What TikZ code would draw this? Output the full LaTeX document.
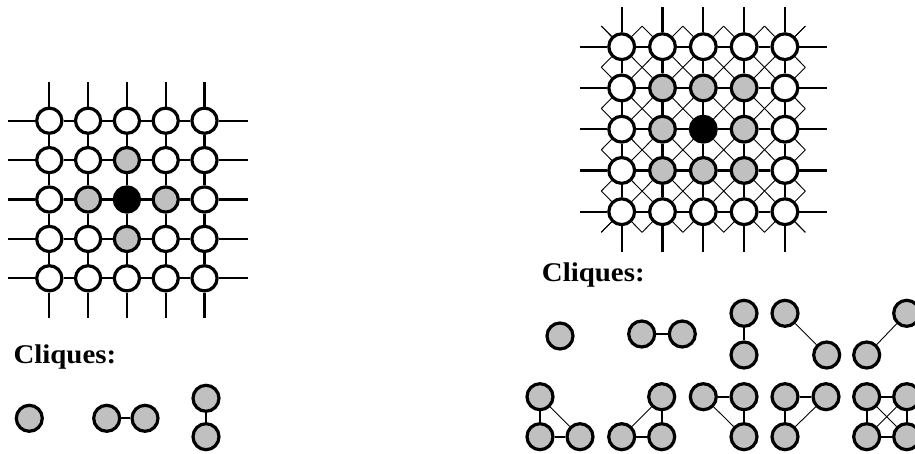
\documentclass[tikz,border=0pt]{standalone}
\usepackage{fontspec}
\setmainfont{Liberation Serif}
\definecolor{cgray}{RGB}{192,192,192}
\begin{document}
\begin{tikzpicture}[x=1pt,y=-1pt,
  vtx/.style={circle,draw=black,line width=3.2pt,minimum size=25.2pt,inner sep=0pt,fill=white},
  cq/.style={vtx,fill=cgray,minimum size=26pt},
  gl/.style={line width=2.1pt},
  dl/.style={line width=0.9pt},
  lbl/.style={font=\bfseries\fontsize{27}{30}\selectfont,inner sep=0pt,anchor=base west}]
\useasboundingbox (0,0) rectangle (915,453);

% ---------- left grid ----------
\foreach \i in {0,...,4}{\foreach \j in {0,...,4}{
  \pgfmathtruncatemacro\dd{abs(\i-2)+abs(\j-2)}
  \ifnum\dd=0 \def\fillc{black}\else\ifnum\dd=1 \def\fillc{cgray}\else\def\fillc{white}\fi\fi
  \node[vtx,fill=\fillc] (L\i\j) at ({49.3+38.8*\i},{120.7+39.4*\j}) {};
}}
\foreach \k in {0,...,4}{
  \coordinate (Lt\k) at ({49.3+38.8*\k},81.5);
  \coordinate (Lb\k) at ({49.3+38.8*\k},318.3);
  \coordinate (Ll\k) at (8.3,{120.7+39.4*\k});
  \coordinate (Lr\k) at (248,{120.7+39.4*\k});
  \draw[gl] (L\k0) -- (Lt\k);
  \draw[gl] (L\k4) -- (Lb\k);
  \draw[gl] (L0\k) -- (Ll\k);
  \draw[gl] (L4\k) -- (Lr\k);
}
\foreach \i [evaluate=\i as \n using int(\i+1)] in {0,...,3}{\foreach \j in {0,...,4}{
  \draw[gl] (L\i\j) -- (L\n\j);
  \draw[gl] (L\j\i) -- (L\j\n);
}}

% ---------- right grid ----------
\foreach \i in {0,...,4}{\foreach \j in {0,...,4}{
  \pgfmathtruncatemacro\dd{max(abs(\i-2),abs(\j-2))}
  \ifnum\dd=0 \def\fillc{black}\else\ifnum\dd=1 \def\fillc{cgray}\else\def\fillc{white}\fi\fi
  \node[vtx,fill=\fillc,minimum size=25.8pt] (R\i\j) at ({621.7+40.8*\i},{46.7+41.25*\j}) {};
}}
\foreach \k in {0,...,4}{
  \coordinate (Rt\k) at ({621.7+40.8*\k},6.7);
  \coordinate (Rb\k) at ({621.7+40.8*\k},251.7);
  \coordinate (Rl\k) at (580,{46.7+41.25*\k});
  \coordinate (Rr\k) at (826.7,{46.7+41.25*\k});
  \draw[gl] (R\k0) -- (Rt\k);
  \draw[gl] (R\k4) -- (Rb\k);
  \draw[gl] (R0\k) -- (Rl\k);
  \draw[gl] (R4\k) -- (Rr\k);
}
\foreach \i [evaluate=\i as \n using int(\i+1)] in {0,...,3}{\foreach \j in {0,...,4}{
  \draw[gl] (R\i\j) -- (R\n\j);
  \draw[gl] (R\j\i) -- (R\j\n);
}}
% diagonals
\foreach \i [evaluate=\i as \n using int(\i+1)] in {0,...,3}{\foreach \j [evaluate=\j as \m using int(\j+1)] in {0,...,3}{
  \draw[dl] (R\i\j) -- (R\n\m);
  \draw[dl] (R\n\j) -- (R\i\m);
}}
\foreach \k in {0,...,5}{
  \coordinate (DT\k) at ({621.7+40.8*(\k-0.5)},26.1);
  \coordinate (DB\k) at ({621.7+40.8*(\k-0.5)},232.3);
  \coordinate (DL\k) at (601.3,{46.7+41.25*(\k-0.5)});
  \coordinate (DR\k) at (805.4,{46.7+41.25*(\k-0.5)});
}
\foreach \k [evaluate=\k as \n using int(\k+1)] in {0,...,4}{
  \draw[dl] (R\k0) -- (DT\k);
  \draw[dl] (R\k0) -- (DT\n);
  \draw[dl] (R\k4) -- (DB\k);
  \draw[dl] (R\k4) -- (DB\n);
  \draw[dl] (R0\k) -- (DL\k);
  \draw[dl] (R0\k) -- (DL\n);
  \draw[dl] (R4\k) -- (DR\k);
  \draw[dl] (R4\k) -- (DR\n);
}

% ---------- labels ----------
\node[lbl] (t1) at (13.3,363.3) {\scalebox{1.07}[1]{Cliques:}};
\node[lbl] (t2) at (541.7,281.7) {\scalebox{1.07}[1]{Cliques:}};

% ---------- left cliques ----------
\node[cq] (a1) at (29.3,418.3) {};
\node[cq] (a2) at (106.7,418.3) {};
\node[cq] (a3) at (145,418.3) {};
\node[cq] (a4) at (206,398.3) {};
\node[cq] (a5) at (206,436.7) {};
\draw[gl] (a2) -- (a3);
\draw[gl] (a4) -- (a5);

% ---------- right cliques, row 1 ----------
\node[cq] (b1) at (560,336) {};
\node[cq] (b2) at (641.7,334) {};
\node[cq] (b3) at (682.3,334) {};
\node[cq] (b4) at (744,313.3) {};
\node[cq] (b5) at (744,355) {};
\node[cq] (b6) at (785,313.3) {};
\node[cq] (b7) at (826.7,355) {};
\node[cq] (b8) at (906.7,313.3) {};
\node[cq] (b9) at (866.7,355) {};
\draw[gl] (b2) -- (b3);
\draw[gl] (b4) -- (b5);
\draw[dl] (b6) -- (b7);
\draw[dl] (b8) -- (b9);

% ---------- right cliques, row 2 ----------
\node[cq] (c1) at (540,396.7) {};
\node[cq] (c2) at (540,436.7) {};
\node[cq] (c3) at (580,436.7) {};
\draw[gl] (c1) -- (c2);
\draw[gl] (c2) -- (c3);
\draw[dl] (c1) -- (c3);

\node[cq] (d1) at (661.7,396.7) {};
\node[cq] (d2) at (621.7,436.7) {};
\node[cq] (d3) at (661.7,436.7) {};
\draw[gl] (d1) -- (d3);
\draw[gl] (d2) -- (d3);
\draw[dl] (d1) -- (d2);

\node[cq] (e1) at (703.3,396.7) {};
\node[cq] (e2) at (744,396.7) {};
\node[cq] (e3) at (744,436.7) {};
\draw[gl] (e1) -- (e2);
\draw[gl] (e2) -- (e3);
\draw[dl] (e1) -- (e3);

\node[cq] (f1) at (785,396.7) {};
\node[cq] (f2) at (826,396.7) {};
\node[cq] (f3) at (785,436.7) {};
\draw[gl] (f1) -- (f2);
\draw[gl] (f1) -- (f3);
\draw[dl] (f2) -- (f3);

\node[cq] (g1) at (866.7,396.7) {};
\node[cq] (g2) at (906.7,396.7) {};
\node[cq] (g3) at (866.7,436.7) {};
\node[cq] (g4) at (906.7,436.7) {};
\draw[gl] (g1) -- (g2);
\draw[gl] (g3) -- (g4);
\draw[gl] (g1) -- (g3);
\draw[gl] (g2) -- (g4);
\draw[dl] (g1) -- (g4);
\draw[dl] (g2) -- (g3);
\end{tikzpicture}
\end{document}
